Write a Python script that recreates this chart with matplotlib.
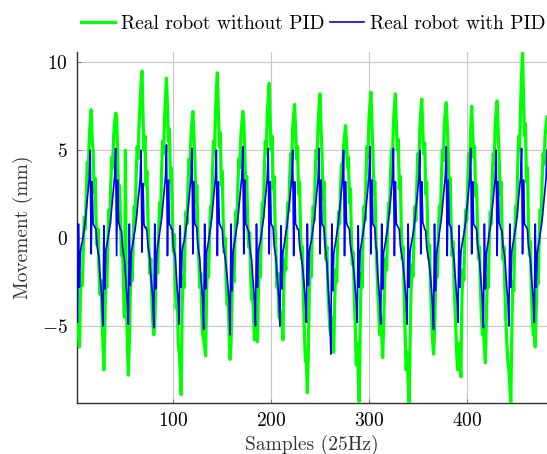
import matplotlib
matplotlib.use("Agg")
import matplotlib.pyplot as plt
import numpy as np

# ---------------- data (cycle by cycle) ----------------
blue_start = [-4.3]
blue_c0 = [-4.8, 0.8, -2.8, -0.8, -0.4, -0.2, 0.2, 0.6, 1.0, 1.6, 2.2, 2.8, 3.4, 5.0, -0.9, 3.2, 0.8, 0.7, 0.6, 0.5, -0.4, -0.8, -1.1, -2.1, -2.8, -3.5]
blue_c1 = [-5.0, 0.7, -2.9, -0.7, -0.4, -0.1, 0.3, 0.6, 1.1, 1.7, 2.3, 2.9, 3.5, 5.1, -1.0, 3.3, 0.9, 0.7, 0.5, 0.4, -0.5, -0.9, -1.2, -2.0, -2.9, -3.6]
blue_c2 = [-4.9, 0.8, -2.7, -0.8, -0.5, -0.2, 0.2, 0.5, 1.0, 1.5, 2.2, 2.7, 3.3, 5.0, -0.8, 3.1, 0.8, 0.6, 0.6, 0.4, -0.4, -0.8, -1.2, -2.2, -2.8, -3.4]
blue_c3 = [-5.1, 0.8, -2.9, -0.9, -0.4, -0.1, 0.3, 0.7, 1.1, 1.7, 2.3, 2.9, 3.5, 5.3, -1.0, 3.3, 0.8, 0.7, 0.5, 0.5, -0.5, -0.8, -1.1, -2.1, -2.9, -3.6]
blue_c4 = [-4.9, 0.7, -2.8, -0.8, -0.4, -0.2, 0.2, 0.6, 1.0, 1.6, 2.2, 2.8, 3.4, 5.1, -0.9, 3.2, 0.8, 0.7, 0.6, -0.4, -0.8, -1.2, -2.1, -2.8, -3.5]
blue_c5 = [-5.2, 0.8, -2.9, -0.8, -0.5, -0.2, 0.2, 0.6, 1.0, 1.6, 2.2, 2.8, 3.4, 5.0, -1.0, 3.2, 0.9, 0.7, 0.6, 0.5, -0.4, -0.8, -1.1, -1.6, -2.2, -2.9, -3.7]
blue_c6 = [-5.5, 0.8, -3.0, -0.9, -0.4, -0.1, 0.3, 0.7, 1.1, 1.7, 2.3, 2.9, 3.5, 5.2, -0.9, 3.3, 0.8, 0.7, 0.5, 0.4, -0.4, -0.9, -1.2, -2.1, -2.8, -3.6]
blue_c7 = [-5.0, 0.8, -2.8, -0.8, -0.4, -0.2, 0.2, 0.6, 1.0, 1.6, 2.2, 2.8, 3.4, 5.1, -0.9, 3.2, 0.8, 0.7, 0.6, -0.4, -0.8, -1.2, -2.1, -2.8, -3.5]
blue_c8 = [-5.0, 0.7, -2.9, -0.8, -0.5, -0.1, 0.3, 0.6, 1.1, 1.7, 2.2, 2.8, 3.4, 5.0, -1.0, 3.2, 0.8, 0.7, 0.5, 0.5, -0.4, -0.8, -1.1, -1.6, -2.2, -2.9, -3.6]
blue_c9 = [-4.8, 0.8, -2.7, -0.8, -0.4, -0.2, 0.2, 0.6, 1.0, 1.6, 2.2, 2.8, 3.4, 5.1, -0.9, 3.3, 0.8, 0.7, 0.6, -0.4, -0.9, -1.5, -2.5, -3.4, -4.5]
blue_c10 = [-6.6, 0.8, -3.0, -0.9, -0.5, -0.2, 0.2, 0.6, 1.1, 1.6, 2.2, 2.8, 3.4, 5.0, -1.0, 3.2, 0.9, 0.7, 0.6, 0.5, -0.4, -0.8, -1.1, -1.6, -2.2, -2.9, -3.6]
blue_c11 = [-4.8, 0.7, -2.8, -0.8, -0.4, -0.1, 0.3, 0.7, 1.1, 1.7, 2.3, 2.9, 3.5, 5.2, -0.9, 3.3, 0.8, 0.7, 0.6, -0.4, -0.8, -2.1, -2.8, -3.6]
blue_c12 = [-4.9, 0.8, -2.9, -0.8, -0.5, -0.2, 0.2, 0.6, 1.0, 1.6, 2.2, 2.8, 3.4, 5.1, -1.0, 3.2, 0.8, 0.7, 0.6, 0.5, -0.4, -0.8, -1.1, -1.6, -2.2, -2.9, -3.6]
blue_c13 = [-4.9, 0.8, -2.8, -0.8, -0.4, -0.1, 0.2, 0.6, 1.1, 1.7, 2.2, 2.8, 3.4, 5.0, -0.9, 3.2, 0.9, 0.7, 0.5, 0.4, -0.5, -0.9, -1.2, -1.7, -2.3, -3.0, -3.8]
blue_c14 = [-5.2, 0.8, -3.0, -0.9, -0.5, -0.2, 0.3, 0.7, 1.1, 1.7, 2.3, 2.9, 3.5, 5.2, -1.0, 3.3, 0.8, 0.7, 0.6, -0.4, -0.8, -1.2, -2.1, -2.8, -3.5]
blue_c15 = [-4.8, 0.7, -2.8, -0.8, -0.4, -0.1, 0.2, 0.6, 1.0, 1.6, 2.2, 2.8, 3.4, 5.1, -0.9, 3.2, 0.8, 0.7, 0.6, 0.5, -0.4, -0.8, -1.2, -2.1, -2.8, -3.6]
blue_c16 = [-5.1, 0.8, -2.9, -0.9, -0.5, -0.2, 0.3, 0.6, 1.1, 1.7, 2.2, 2.8, 3.4, 5.0, -1.0, 3.2, 0.9, 0.7, 0.5, 0.4, -0.5, -0.8, -1.1, -2.1, -2.9, -3.5]
blue_c17 = [-5.0, 0.8, -2.8, -0.8, -0.4, -0.1, 0.3, 0.6, 1.0, 1.6, 2.3, 2.9, 3.4, 5.1, -0.9, 3.3, 0.8, 0.7, 0.6, 0.5, -0.4, -0.8, -1.2, -2.1, -2.8, -3.5]
blue_end = [-4.8, 0.8, -2.8, -0.9, -0.5, -0.2, 0.2, 0.6, 1.0, 1.6, 2.2, 2.8, 3.4, 5.0]

green_start = [-5.3]
green_c0 = [-4.5, -5.6, -6.2, -3.4, -2.0, -2.7, -0.4, 1.2, 0.5, 2.4, 4.3, 3.6, 5.6, 6.6, 7.3, 5.6, 5.0, 2.6, 3.4, 1.0, -0.4, 0.5, -1.9, -3.2, -2.4, -4.3]
green_c1 = [-6.0, -7.5, -5.0, -2.0, -2.8, -0.3, 1.6, 0.8, 3.0, 4.6, 4.0, 5.8, 6.6, 7.1, 6.9, 5.0, 2.2, 3.0, 0.8, -1.0, -0.3, -2.5, -4.5, 5.0, -3.5, -6.0]
green_c2 = [-7.8, -6.0, -3.2, -1.8, -2.4, 0.0, 1.8, 1.0, 3.5, 5.2, 4.5, 6.5, 7.6, 8.8, 9.5, 7.0, 5.0, 5.8, 3.0, 3.8, 1.2, -0.5, -2.0, -1.2, -3.5, -4.8]
green_c3 = [-5.5, -5.0, -2.8, -1.2, -2.0, 0.5, 2.0, 1.2, 3.8, 5.5, 4.8, 6.8, 8.0, 9.1, 7.5, 5.5, 6.2, 3.2, 4.0, 1.0, -0.8, 0.2, -2.8, -4.0, -3.2, -6.0]
green_c4 = [-6.5, -7.6, -8.9, -4.0, -2.2, -2.8, 0.0, 1.5, 0.8, 3.0, 4.5, 4.0, 5.8, 6.6, 7.2, 5.8, 4.6, 2.0, 3.0, 0.5, -1.2, -2.8, -2.0, -4.2, -5.5]
green_c5 = [-5.8, -6.2, -6.7, -3.0, -1.5, -2.2, 0.2, 1.8, 1.2, 3.5, 5.5, 4.8, 7.0, 8.4, 9.4, 7.2, 5.2, 6.0, 3.0, 3.8, 1.0, -0.8, 0.0, -2.5, -3.8, -3.0, -5.5]
green_c6 = [-6.9, -6.0, -3.5, -1.8, -2.5, 0.0, 1.5, 0.8, 3.0, 4.5, 4.0, 5.8, 6.5, 7.2, 6.6, 5.0, 2.5, 3.5, 1.0, -0.5, 0.3, -2.0, -3.5, -2.8, -4.5, -5.8]
green_c7 = [-4.8, -5.3, -5.9, -3.0, -1.5, -2.2, 0.5, 2.0, 1.2, 3.8, 5.5, 4.8, 7.0, 8.0, 8.8, 6.5, 5.0, 5.8, 2.8, 3.5, 0.8, -1.0, -2.8, -2.0, -4.5]
green_c8 = [-4.5, -5.0, -4.2, -5.8, -2.5, -1.2, -1.8, 0.5, 2.0, 1.5, 3.5, 4.8, 4.2, 6.2, 7.0, 7.6, 6.0, 4.5, 5.2, 2.5, 3.2, 0.5, -1.2, -0.5, -3.5, -5.5, -7.0]
green_c9 = [-7.0, -8.8, -6.5, -3.0, -1.5, -2.2, 0.5, 1.8, 1.0, 3.5, 5.0, 4.5, 6.5, 7.5, 8.2, 6.2, 4.8, 2.2, 3.2, 0.5, -1.2, -0.5, -2.8, -4.0, -5.2]
green_c10 = [-5.5, -4.5, -6.0, -6.5, -3.5, -1.8, -2.5, 0.0, 1.5, 0.8, 3.0, 4.2, 3.8, 5.2, 5.8, 6.4, 5.5, 4.0, 4.6, 2.0, 2.8, 0.2, -1.5, -0.8, -3.5, -5.0, -7.2]
green_c11 = [-6.0, -7.8, -9.3, -5.0, -2.0, -2.8, 0.2, 1.8, 1.0, 3.5, 5.2, 4.6, 6.8, 7.6, 8.3, 6.5, 5.0, 2.5, 3.2, 0.5, -1.5, -3.0, -4.2, -5.5]
green_c12 = [-4.5, -5.5, -6.8, -5.0, -2.5, -1.2, -1.8, 0.5, 2.0, 1.4, 3.6, 5.0, 4.5, 6.5, 7.5, 8.2, 6.5, 5.0, 5.6, 2.8, 3.5, 0.8, -1.2, -0.5, -3.5, -5.5, -7.5]
green_c13 = [-6.5, -8.2, -9.4, -6.0, -3.0, -1.5, -2.2, 0.2, 1.8, 1.0, 3.2, 4.8, 4.2, 6.2, 7.2, 7.9, 6.2, 4.8, 5.4, 2.5, 3.2, 0.5, -1.2, -0.4, -3.0, -4.5, -5.8]
green_c14 = [-6.6, -5.5, -3.0, -1.5, -2.2, 0.3, 1.8, 1.0, 3.3, 5.0, 4.4, 6.4, 7.2, 7.7, 6.5, 5.0, 2.5, 3.4, 0.8, -1.0, -0.2, -2.5, -4.0, -5.5, -7.0]
green_c15 = [-7.5, -6.0, -6.8, -7.9, -3.5, -1.8, -2.4, 0.2, 1.6, 1.0, 3.2, 4.8, 4.2, 6.2, 7.5, 6.0, 4.6, 5.2, 2.4, 3.0, 0.5, -1.2, -0.5, -3.0, -4.5, -5.5]
green_c16 = [-5.0, -6.2, -7.1, -4.5, -2.2, -2.8, 0.0, 1.5, 0.8, 3.2, 4.8, 4.2, 6.3, 7.2, 7.8, 6.2, 4.8, 2.5, 3.2, 0.5, -1.2, -0.5, -3.0, -4.8, -6.0, -7.0]
green_c17 = [-7.5, -8.4, -9.4, -5.5, -2.5, -3.0, 0.0, 1.8, 1.2, 3.8, 5.8, 5.0, 7.5, 9.2, 10.6, 8.0, 5.8, 6.5, 3.2, 4.0, 1.0, -1.0, -0.2, -3.0, -4.5, -5.5]
green_end = [-5.5, -6.2, -4.0, -2.0, -2.6, 0.0, 1.6, 1.0, 3.2, 4.8, 4.2, 5.8, 6.4, 6.9]

blue_cycles = [blue_start, blue_c0, blue_c1, blue_c2, blue_c3, blue_c4, blue_c5, blue_c6,
               blue_c7, blue_c8, blue_c9, blue_c10, blue_c11, blue_c12, blue_c13, blue_c14,
               blue_c15, blue_c16, blue_c17, blue_end]
green_cycles = [green_start, green_c0, green_c1, green_c2, green_c3, green_c4, green_c5, green_c6,
                green_c7, green_c8, green_c9, green_c10, green_c11, green_c12, green_c13, green_c14,
                green_c15, green_c16, green_c17, green_end]

with_pid = [v for c in blue_cycles for v in c]
without_pid = [v for c in green_cycles for v in c]

series_labels = ["Real robot without PID", "Real robot with PID"]
x_ticks = [100, 200, 300, 400]
y_ticks = [-5, 0, 5, 10]
x_label = "Samples (25Hz)"
y_label = "Movement (mm)"

# ---------------- plotting ----------------
plt.rcParams["font.family"] = "serif"
plt.rcParams["font.serif"] = ["cmr10", "DejaVu Serif"]
plt.rcParams["mathtext.fontset"] = "cm"
plt.rcParams["axes.formatter.use_mathtext"] = True
plt.rcParams["axes.unicode_minus"] = True

W, H = 547, 454
fig = plt.figure(figsize=(W / 100, H / 100), dpi=100)
left_px, right_px, top_px, bot_px = 76.5, 547.0, 51.7, 403.3
ax = fig.add_axes([left_px / W, 1 - bot_px / H, (right_px - left_px) / W, (bot_px - top_px) / H])

xg = np.arange(1, len(without_pid) + 1)
xb = np.arange(1, len(with_pid) + 1)
ax.plot(xg, without_pid, color="#00ff00", lw=2.3, label=series_labels[0], zorder=3)
ax.plot(xb, with_pid, color="#0000ff", lw=1.2, label=series_labels[1], zorder=4)

ax.set_xlim(1, 482)
ax.set_ylim(-9.4, 10.6)
ax.set_xticks(x_ticks)
ax.set_yticks(y_ticks)
ax.grid(True, color="#c8c8c8", lw=0.8)
ax.set_axisbelow(True)
for s in ["top", "right"]:
    ax.spines[s].set_visible(False)
for s in ["left", "bottom"]:
    ax.spines[s].set_color("#303030")
    ax.spines[s].set_linewidth(1.0)
ax.tick_params(direction="in", length=3, color="#808080", labelsize=14, pad=6)
ax.set_xlabel(x_label, fontsize=14, color="#333333", labelpad=4)
ax.set_ylabel(y_label, fontsize=14, color="#333333", labelpad=7)

fig.legend(loc="center right", bbox_to_anchor=(1.029, 1 - 24 / H), ncol=2, frameon=False,
           fontsize=14, handlelength=1.75, handletextpad=0.3, columnspacing=0.3)

fig.savefig("out.png", dpi=100)
